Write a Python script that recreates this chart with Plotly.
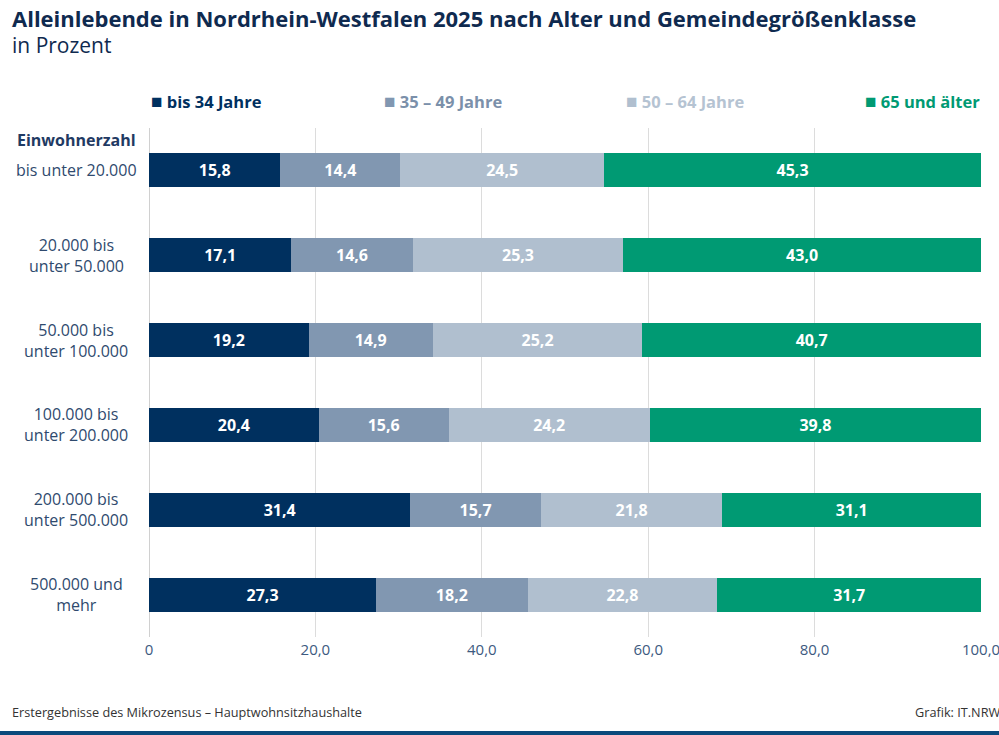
import plotly.graph_objects as go

# Data
categories = ["bis unter 20.000", "20.000 bis<br>unter 50.000", "50.000 bis<br>unter 100.000",
              "100.000 bis<br>unter 200.000", "200.000 bis<br>unter 500.000", "500.000 und<br>mehr"]
series_names = ["bis 34 Jahre", "35 – 49 Jahre", "50 – 64 Jahre", "65 und älter"]
bis34 = [15.8, 17.1, 19.2, 20.4, 31.4, 27.3]
j35_49 = [14.4, 14.6, 14.9, 15.6, 15.7, 18.2]
j50_64 = [24.5, 25.3, 25.2, 24.2, 21.8, 22.8]
ab65 = [45.3, 43.0, 40.7, 39.8, 31.1, 31.7]
tick_vals = [0, 20, 40, 60, 80, 100]
tick_text = ["0", "20,0", "40,0", "60,0", "80,0", "100,0"]

colors = ["#00305f", "#8197b1", "#b0bfcf", "#009a73"]
FONT = "Open Sans"

fig = go.Figure()
for name, vals, col in zip(series_names, [bis34, j35_49, j50_64, ab65], colors):
    fig.add_trace(go.Bar(
        y=categories, x=vals, name=name, orientation="h",
        marker=dict(color=col, line=dict(width=0)),
        width=0.4,
        texttemplate="%{x:.1f}", textposition="inside", insidetextanchor="middle",
        textfont=dict(family=FONT, size=16, color="white", weight="bold"),
        hovertemplate="%{y}: %{x:.1f}<extra>" + name + "</extra>",
    ))

fig.update_layout(
    barmode="stack",
    width=999, height=735,
    margin=dict(l=149, r=18, t=128, b=98, autoexpand=False),
    paper_bgcolor="white", plot_bgcolor="white",
    separators=",.",
    showlegend=False,
    font=dict(family=FONT, color="#2f4a6e"),
    xaxis=dict(range=[0, 100], tickvals=tick_vals, ticktext=tick_text,
               showgrid=True, gridcolor="#dcdcdc", gridwidth=1,
               zeroline=True, zerolinecolor="#d0d0d0", zerolinewidth=1,
               tickfont=dict(size=15, color="#3d5a80"), ticks="", ticklabelstandoff=2,
               ticklabeloverflow="allow", automargin=False, fixedrange=True),
    yaxis=dict(categoryorder="array", categoryarray=categories, range=[5.5, -0.5],
               showticklabels=False, showgrid=False, zeroline=False, fixedrange=True),
)

# Category labels, centered in the left margin
for cat in categories:
    fig.add_annotation(x=0, xref="paper", xshift=-73, xanchor="center",
                       y=cat, yref="y", text=cat, showarrow=False, align="center",
                       font=dict(family=FONT, size=16, color="#2f4a6e"))

fig.add_annotation(x=0, xref="paper", xshift=-73, xanchor="center",
                   y=1, yref="paper", yshift=-12, yanchor="middle",
                   text="<b>Einwohnerzahl</b>", showarrow=False,
                   font=dict(family=FONT, size=16, color="#1f3a63"))

# Legend
legend_x = [0, 0.28, 0.571, 0.858]
legend_text_colors = ["#00305f", "#7b90aa", "#b5c3d2", "#009a73"]
for name, col, tcol, lx in zip(series_names, colors, legend_text_colors, legend_x):
    fig.add_annotation(x=lx, xref="paper", xanchor="left", y=1, yref="paper",
                       yshift=27, yanchor="middle", showarrow=False,
                       text=f"<span style='color:{col};font-size:19px'>■</span> <b>{name}</b>",
                       font=dict(family=FONT, size=16.5, color=tcol))

# Title and subtitle
fig.add_annotation(x=0, xref="paper", xshift=-139, xanchor="left",
                   y=1, yref="paper", yshift=110, yanchor="middle", showarrow=False,
                   text="<b>Alleinlebende in Nordrhein-Westfalen 2025 nach Alter und Gemeindegrößenklasse</b>",
                   font=dict(family=FONT, size=22, color="#0f2a4f"))
fig.add_annotation(x=0, xref="paper", xshift=-139, xanchor="left",
                   y=1, yref="paper", yshift=83, yanchor="middle", showarrow=False,
                   text="in Prozent", font=dict(family=FONT, size=21, color="#0f2a4f"))

# Footer
fig.add_annotation(x=0, xref="paper", xshift=-139, xanchor="left",
                   y=0, yref="paper", yshift=-75, yanchor="middle", showarrow=False,
                   text="Erstergebnisse des Mikrozensus – Hauptwohnsitzhaushalte",
                   font=dict(family=FONT, size=12.7, color="#333333"))
fig.add_annotation(x=1, xref="paper", xshift=21, xanchor="right",
                   y=0, yref="paper", yshift=-75, yanchor="middle", showarrow=False,
                   text="Grafik: IT.NRW", font=dict(family=FONT, size=12.7, color="#333333"))
fig.add_shape(type="rect", xref="paper", yref="paper", xsizemode="pixel", ysizemode="pixel",
              xanchor=0, yanchor=0, x0=-149, x1=860, y0=-94, y1=-100,
              fillcolor="#0b4a7c", line=dict(width=0), layer="above")

fig.write_html("out.html", config={"displayModeBar": False},
               post_script="document.body.style.margin='0';")
